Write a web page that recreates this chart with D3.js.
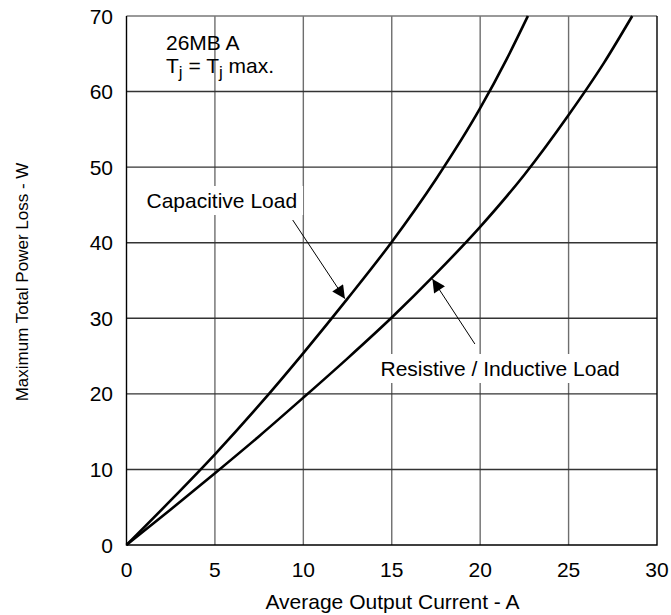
<!DOCTYPE html>
<html>
<head>
<meta charset="utf-8">
<script src="https://cdn.jsdelivr.net/npm/d3@7"></script>
<style>
  body { margin: 0; background: #fff; }
  text { font-family: "Liberation Sans", Arial, sans-serif; fill: #000; }
</style>
</head>
<body>
<script>
// Chart data
var xTicks = [0, 5, 10, 15, 20, 25, 30];
var yTicks = [0, 10, 20, 30, 40, 50, 60, 70];

var capCurrent = [0, 2.5, 5, 7.5, 10, 12.5, 15, 17.5, 20, 21.5, 22.7];
var capLoss    = [0, 5.9, 12, 18.5, 25.4, 32.6, 40.1, 48.4, 57.8, 64.3, 70];

var resCurrent = [0, 2.5, 5, 7.5, 10, 12.5, 15, 17.5, 20, 22.5, 25, 27, 28.6];
var resLoss    = [0, 4.7, 9.5, 14.4, 19.5, 24.7, 30.1, 35.9, 42.1, 49.0, 56.9, 63.8, 70];

// Width and height
var w = 671;
var h = 615;
var fs = "21px";

var svg = d3.select("body")
    .append("svg")
    .attr("width", w)
    .attr("height", h);

// Scales
var xScale = d3.scaleLinear()
    .domain([0, 30])
    .range([126.5, 657]);

var yScale = d3.scaleLinear()
    .domain([0, 70])
    .range([545, 16]);

// Grid lines
svg.append("g")
    .selectAll("line")
    .data(xTicks.slice(1, -1))
    .enter().append("line")
    .attr("x1", function(d) { return xScale(d); })
    .attr("x2", function(d) { return xScale(d); })
    .attr("y1", yScale(0))
    .attr("y2", yScale(70))
    .style("stroke", "#6e6e6e")
    .style("stroke-width", 1.4);

svg.append("g")
    .selectAll("line")
    .data(yTicks.slice(1, -1))
    .enter().append("line")
    .attr("x1", xScale(0))
    .attr("x2", xScale(30))
    .attr("y1", function(d) { return yScale(d); })
    .attr("y2", function(d) { return yScale(d); })
    .style("stroke", "#333")
    .style("stroke-width", 1.4);

// Top grid line is grey
svg.append("line")
    .attr("x1", xScale(0)).attr("x2", xScale(30))
    .attr("y1", yScale(70)).attr("y2", yScale(70))
    .style("stroke", "#777").style("stroke-width", 1.4);

// Border: left, bottom, right
svg.append("path")
    .attr("d", "M" + xScale(0) + "," + yScale(70) + "V" + yScale(0) + "H" + xScale(30) + "V" + yScale(70))
    .style("fill", "none")
    .style("stroke", "#000")
    .style("stroke-width", 1.4);

// Annotation text with white background boxes
function label(txt, x, y) {
    var t = svg.append("text")
        .attr("x", x)
        .attr("y", y)
        .style("font-size", fs)
        .text(txt);
    var b = t.node().getBBox();
    svg.insert("rect", "text")
        .attr("x", b.x - 6)
        .attr("y", b.y - 3)
        .attr("width", b.width + 12)
        .attr("height", b.height + 6)
        .style("fill", "#fff");
    return t;
}

label("Capacitive Load", 146.5, 208);
label("Resistive / Inductive Load", 380.5, 376);

// Curves
var line = d3.line()
    .curve(d3.curveMonotoneX)
    .x(function(d) { return xScale(d[0]); })
    .y(function(d) { return yScale(d[1]); });

var series = [
    d3.zip(capCurrent, capLoss),
    d3.zip(resCurrent, resLoss)
];

svg.selectAll(".curve")
    .data(series)
    .enter().append("path")
    .attr("class", "curve")
    .attr("d", line)
    .style("fill", "none")
    .style("stroke", "#000")
    .style("stroke-width", 2.6);

// Arrows
var defs = svg.append("defs");
defs.append("marker")
    .attr("id", "head")
    .attr("viewBox", "0 0 10 10")
    .attr("refX", 10)
    .attr("refY", 5)
    .attr("markerUnits", "userSpaceOnUse")
    .attr("markerWidth", 18)
    .attr("markerHeight", 13)
    .attr("orient", "auto")
    .append("path")
    .attr("d", "M0,0L10,5L0,10Z")
    .style("fill", "#000");

var arrows = [
    { from: [9.4, 43], to: [12.35, 32.6] },
    { from: [19.7, 26.6], to: [17.3, 35.2] }
];

svg.selectAll(".arrow")
    .data(arrows)
    .enter().append("line")
    .attr("class", "arrow")
    .attr("x1", function(d) { return xScale(d.from[0]); })
    .attr("y1", function(d) { return yScale(d.from[1]); })
    .attr("x2", function(d) { return xScale(d.to[0]); })
    .attr("y2", function(d) { return yScale(d.to[1]); })
    .attr("marker-end", "url(#head)")
    .style("stroke", "#000")
    .style("stroke-width", 1);

// Device note
svg.append("text")
    .attr("x", 166)
    .attr("y", 50)
    .style("font-size", fs)
    .text("26MB A");

var note2 = svg.append("text")
    .attr("x", 166)
    .attr("y", 73)
    .style("font-size", fs);
note2.append("tspan").text("T");
note2.append("tspan").attr("dy", 5).style("font-size", "17px").style("fill", "#000").text("j");
note2.append("tspan").attr("dy", -5).text(" = T");
note2.append("tspan").attr("dy", 5).style("font-size", "17px").style("fill", "#000").text("j");
note2.append("tspan").attr("dy", -5).text(" max.");

// Tick labels
svg.append("g")
    .selectAll("text")
    .data(xTicks)
    .enter().append("text")
    .attr("x", function(d) { return xScale(d); })
    .attr("y", 577)
    .style("text-anchor", "middle")
    .style("font-size", fs)
    .text(function(d) { return d; });

svg.append("g")
    .selectAll("text")
    .data(yTicks)
    .enter().append("text")
    .attr("x", 113)
    .attr("y", function(d) { return yScale(d) + 7.5; })
    .style("text-anchor", "end")
    .style("font-size", fs)
    .text(function(d) { return d; });

// Axis titles
svg.append("text")
    .attr("x", 392.5)
    .attr("y", 609)
    .style("text-anchor", "middle")
    .style("font-size", fs)
    .text("Average Output Current - A");

svg.append("text")
    .attr("transform", "rotate(-90)")
    .attr("x", -282)
    .attr("y", 28)
    .style("text-anchor", "middle")
    .style("font-size", "17px")
    .text("Maximum Total Power Loss - W");
</script>
</body>
</html>
